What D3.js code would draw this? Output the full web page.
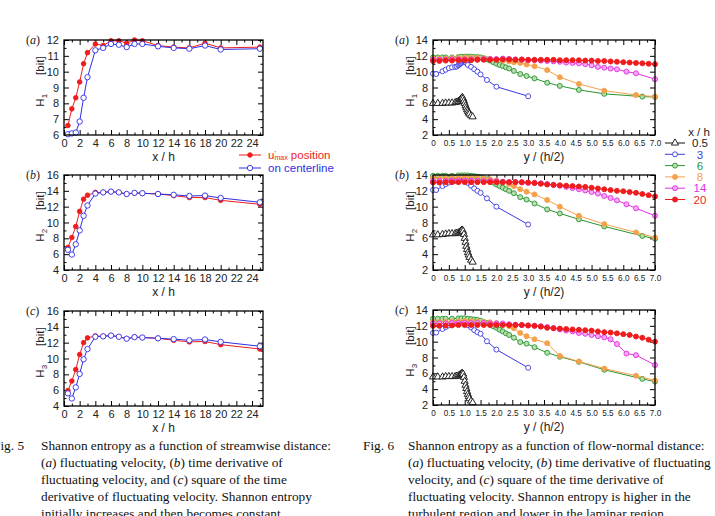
<!DOCTYPE html>
<html>
<head>
<meta charset="utf-8">
<script src="https://cdn.jsdelivr.net/npm/d3@7"></script>
<style>
  body { margin: 0; background: #fff; }
  svg { display: block; }
</style>
</head>
<body>
<div id="chart"></div>
<script>
var svgWidth = 715;
var svgHeight = 516;
var sans = "'Liberation Sans', Arial, sans-serif";
var serif = "'Liberation Serif', 'Times New Roman', serif";

// ---- Fig. 5 : entropy vs streamwise distance x/h ----
var xh = [0.5, 1, 1.5, 2, 2.5, 3, 4, 5, 6, 7, 8, 9, 10, 12, 14, 16, 18, 20, 25];
var h1Umax   = [6.6, 7.65, 8.35, 9.35, 10.5, 11.2, 11.75, 11.65, 11.95, 11.95, 11.8, 12.0, 11.95, 11.65, 11.55, 11.5, 11.8, 11.5, 11.55];
var h1Center = [6.05, 6.1, 6.15, 6.85, 8.35, 9.65, 11.35, 11.5, 11.75, 11.7, 11.55, 11.75, 11.75, 11.6, 11.5, 11.45, 11.65, 11.4, 11.45];
var h2Umax   = [6.85, 8.1, 9.5, 11.4, 12.95, 13.45, 13.8, 13.8, 13.9, 13.8, 13.6, 13.7, 13.7, 13.6, 13.4, 13.15, 13.15, 12.8, 12.3];
var h2Center = [6.55, 5.95, 7.25, 9.0, 10.85, 12.15, 13.65, 13.8, 13.9, 13.8, 13.6, 13.75, 13.7, 13.6, 13.5, 13.35, 13.4, 13.1, 12.55];
var h3Umax   = [5.95, 7.15, 8.6, 10.5, 12.0, 12.6, 12.85, 12.8, 12.9, 12.75, 12.5, 12.7, 12.65, 12.55, 12.3, 12.1, 12.15, 11.75, 11.2];
var h3Center = [5.6, 4.95, 6.35, 8.05, 9.9, 11.2, 12.75, 12.8, 12.9, 12.75, 12.5, 12.7, 12.65, 12.55, 12.45, 12.3, 12.4, 12.1, 11.55];

// ---- Fig. 6 : entropy vs flow-normal distance y/(h/2), one set per x/h ----
var pos05 = [0, 0.15, 0.3, 0.4, 0.5, 0.6, 0.7, 0.75, 0.8, 0.85, 0.875, 0.9, 0.925, 0.95, 0.975, 1.0, 1.025, 1.05, 1.075, 1.1, 1.125, 1.15, 1.2, 1.25];
var pos3  = [0, 0.1, 0.3, 0.4, 0.5, 0.6, 0.7, 0.75, 0.8, 0.825, 0.85, 0.875, 0.9, 0.925, 0.95, 0.975, 1.0, 1.025, 1.05, 1.1, 1.2, 1.3, 1.4, 1.5, 1.7, 2.0, 3.0];
var pos6  = [0, 0.15, 0.3, 0.4, 0.6, 0.8, 0.9, 1.0, 1.1, 1.2, 1.3, 1.4, 1.5, 1.6, 1.7, 1.8, 1.9, 2.0, 2.1, 2.2, 2.3, 2.4, 2.55, 2.75, 2.95, 3.2, 3.6, 4.0, 4.6, 5.4, 6.6, 7.0];
var pos8  = [0, 0.2, 0.4, 0.6, 0.8, 1.0, 1.2, 1.4, 1.6, 1.8, 2.0, 2.2, 2.4, 2.55, 2.75, 2.95, 3.2, 3.6, 4.0, 4.6, 5.4, 6.4, 7.0];
var pos14 = [0, 0.2, 0.4, 0.6, 0.8, 1.0, 1.2, 1.4, 1.6, 1.8, 2.0, 2.2, 2.4, 2.6, 2.8, 3.0, 3.2, 3.4, 3.6, 3.8, 4.0, 4.2, 4.4, 4.6, 4.8, 5.0, 5.2, 5.4, 5.6, 5.8, 6.1, 6.4, 7.0];
var pos20 = [0, 0.2, 0.4, 0.6, 0.8, 1.0, 1.2, 1.4, 1.6, 1.8, 2.0, 2.2, 2.4, 2.6, 2.8, 3.0, 3.2, 3.4, 3.6, 3.8, 4.0, 4.2, 4.4, 4.6, 4.8, 5.0, 5.2, 5.4, 5.6, 5.8, 6.0, 6.2, 6.4, 6.6, 6.8, 7.0];

var h1_05 = [6.0, 6.0, 6.0, 6.05, 6.05, 6.05, 6.1, 6.15, 6.25, 6.4, 6.5, 6.65, 6.75, 6.6, 6.3, 6.0, 5.7, 5.45, 5.2, 5.0, 4.8, 4.65, 4.45, 4.3];
var h1_3  = [9.75, 9.7, 10.05, 10.25, 10.45, 10.55, 10.6, 10.65, 10.8, 10.9, 11.0, 11.05, 11.15, 11.25, 11.3, 11.35, 11.3, 11.2, 11.1, 10.85, 10.6, 10.3, 10.0, 9.65, 8.95, 8.1, 6.9];
var h1_6  = [11.8, 11.8, 11.8, 11.8, 11.8, 11.85, 11.9, 11.9, 11.9, 11.9, 11.85, 11.85, 11.8, 11.7, 11.55, 11.4, 11.2, 11.0, 10.85, 10.7, 10.55, 10.4, 10.1, 9.7, 9.45, 9.15, 8.6, 8.2, 7.7, 7.2, 6.85, 6.8];
var h1_8  = [11.65, 11.65, 11.65, 11.7, 11.75, 11.8, 11.8, 11.75, 11.7, 11.6, 11.5, 11.4, 11.3, 11.2, 11.1, 10.9, 10.7, 10.2, 9.3, 8.45, 7.6, 7.05, 6.85];
var h1_14 = [11.5, 11.5, 11.5, 11.55, 11.55, 11.55, 11.55, 11.55, 11.6, 11.6, 11.6, 11.65, 11.6, 11.55, 11.5, 11.45, 11.45, 11.4, 11.35, 11.3, 11.25, 11.15, 11.1, 11.05, 10.95, 10.8, 10.6, 10.5, 10.4, 10.3, 10.0, 9.8, 9.05];
var h1_20 = [11.35, 11.35, 11.4, 11.4, 11.45, 11.45, 11.45, 11.5, 11.5, 11.5, 11.5, 11.55, 11.55, 11.5, 11.55, 11.5, 11.5, 11.5, 11.5, 11.5, 11.45, 11.45, 11.45, 11.45, 11.4, 11.4, 11.35, 11.35, 11.3, 11.25, 11.2, 11.15, 11.1, 11.05, 11.0, 10.95];

var h2_05 = [6.45, 6.45, 6.5, 6.55, 6.6, 6.6, 6.6, 6.65, 6.7, 6.8, 6.9, 7.0, 7.05, 6.9, 6.5, 6.0, 5.5, 5.0, 4.6, 4.2, 3.9, 3.6, 3.25, 3.0];
var h2_3  = [12.1, 12.1, 12.6, 12.85, 13.05, 13.2, 13.25, 13.3, 13.35, 13.4, 13.45, 13.5, 13.55, 13.55, 13.55, 13.5, 13.45, 13.35, 13.25, 13.0, 12.65, 12.3, 12.0, 11.75, 11.05, 10.0, 7.75];
var h2_6  = [13.9, 13.9, 13.9, 13.9, 13.9, 13.95, 13.95, 13.95, 13.95, 13.9, 13.85, 13.8, 13.7, 13.6, 13.45, 13.25, 13.05, 12.8, 12.6, 12.4, 12.2, 12.0, 11.7, 11.2, 10.9, 10.4, 9.65, 9.15, 8.4, 7.5, 6.3, 5.95];
var h2_8  = [13.6, 13.6, 13.6, 13.65, 13.65, 13.7, 13.7, 13.65, 13.55, 13.45, 13.3, 13.1, 12.85, 12.6, 12.2, 11.9, 11.55, 10.85, 10.0, 8.85, 7.8, 6.75, 6.1];
var h2_14 = [13.25, 13.25, 13.25, 13.3, 13.3, 13.3, 13.3, 13.3, 13.25, 13.25, 13.2, 13.15, 13.1, 13.1, 13.05, 13.0, 13.0, 12.95, 12.85, 12.75, 12.65, 12.5, 12.35, 12.2, 12.05, 11.85, 11.65, 11.35, 11.1, 10.8, 10.3, 9.8, 8.85];
var h2_20 = [13.05, 13.05, 13.1, 13.1, 13.1, 13.1, 13.1, 13.1, 13.1, 13.1, 13.1, 13.1, 13.1, 13.1, 13.1, 13.05, 13.0, 12.9, 12.8, 12.75, 12.7, 12.65, 12.6, 12.55, 12.5, 12.4, 12.3, 12.2, 12.1, 12.0, 11.95, 11.85, 11.75, 11.6, 11.45, 11.3];

var h3_05 = [5.55, 5.55, 5.55, 5.6, 5.6, 5.6, 5.6, 5.65, 5.7, 5.8, 5.85, 5.95, 6.0, 5.9, 5.5, 5.0, 4.5, 4.1, 3.7, 3.35, 3.05, 2.8, 2.5, 2.3];
var h3_3  = [11.1, 11.15, 11.6, 11.85, 12.05, 12.2, 12.3, 12.35, 12.4, 12.45, 12.5, 12.55, 12.6, 12.6, 12.6, 12.55, 12.5, 12.4, 12.3, 12.1, 11.8, 11.45, 11.2, 11.0, 10.05, 9.0, 6.7];
var h3_6  = [12.9, 12.9, 12.9, 12.9, 12.9, 12.95, 12.95, 12.95, 12.9, 12.85, 12.8, 12.75, 12.65, 12.5, 12.35, 12.15, 11.95, 11.75, 11.5, 11.3, 11.05, 10.85, 10.5, 9.95, 9.75, 9.3, 8.6, 8.1, 7.45, 6.45, 5.3, 4.95];
var h3_8  = [12.5, 12.5, 12.5, 12.55, 12.55, 12.6, 12.6, 12.55, 12.5, 12.45, 12.35, 12.2, 11.95, 11.7, 11.1, 10.7, 10.3, 9.8, 8.2, 7.5, 6.6, 5.7, 5.1];
var h3_14 = [12.3, 12.3, 12.3, 12.35, 12.35, 12.35, 12.35, 12.35, 12.35, 12.3, 12.3, 12.3, 12.2, 12.15, 12.1, 12.05, 12.0, 11.95, 11.85, 11.7, 11.55, 11.4, 11.3, 11.1, 11.0, 10.85, 10.7, 10.55, 10.3, 9.7, 8.5, 8.3, 7.05];
var h3_20 = [12.0, 12.0, 12.05, 12.05, 12.1, 12.1, 12.1, 12.1, 12.1, 12.1, 12.1, 12.1, 12.1, 12.1, 12.1, 12.05, 12.0, 11.9, 11.75, 11.7, 11.65, 11.6, 11.55, 11.5, 11.45, 11.4, 11.3, 11.2, 11.15, 11.05, 10.95, 10.85, 10.65, 10.5, 10.25, 10.0];

var fig6Keys = ["0.5", "3", "6", "8", "14", "20"];

var caption5 = [
    "Shannon entropy as a function of streamwise distance:",
    "(a) fluctuating velocity, (b) time derivative of",
    "fluctuating velocity, and (c) square of the time",
    "derivative of fluctuating velocity. Shannon entropy",
    "initially increases and then becomes constant."
];
var caption6 = [
    "Shannon entropy as a function of flow-normal distance:",
    "(a) fluctuating velocity, (b) time derivative of fluctuating",
    "velocity, and (c) square of the time derivative of",
    "fluctuating velocity. Shannon entropy is higher in the",
    "turbulent region and lower in the laminar region."
];

// styles of the series
var redCol = "#ee1c1c", blueCol = "#2e2ee6";
var styles6 = [
    { color: "#111111", marker: "tri",  fill: "#fff" },
    { color: "#3a3ae0", marker: "circ", fill: "#fff" },
    { color: "#2a9630", marker: "circ", fill: "#b6dcb0" },
    { color: "#f5a04a", marker: "circ", fill: "#f5a04a" },
    { color: "#e22ee2", marker: "circ", fill: "#f2a8f2" },
    { color: "#ee1c1c", marker: "circ", fill: "#ee1c1c" }
];

function zip(xs, ys) {
    return xs.map(function (x, i) { return { x: x, y: ys[i] }; });
}

var svg = d3.select("#chart")
    .append("svg")
    .attr("width", svgWidth)
    .attr("height", svgHeight);

function drawPanel(p) {
    var width = p.right - p.left;
    var height = p.bottom - p.top;
    var g = svg.append("g").attr("transform", `translate(${p.left}, ${p.top})`);

    var x = d3.scaleLinear().domain(p.xDomain).range([0, width]);
    var y = d3.scaleLinear().domain(p.yDomain).range([height, 0]);

    // inside ticks on all four sides (major + minor)
    function tickAxis(axisFn, scale, vals, size, fmt) {
        return axisFn(scale).tickValues(vals).tickSizeInner(-size).tickSizeOuter(0)
            .tickPadding(p.pad || 4).tickFormat(fmt || "");
    }
    var xb = g.append("g").attr("transform", `translate(0, ${height})`)
        .call(tickAxis(d3.axisBottom, x, p.xTicks, 5, p.xFmt));
    g.append("g").attr("transform", `translate(0, ${height})`)
        .call(tickAxis(d3.axisBottom, x, p.xMinor, 2.5));
    g.append("g").call(tickAxis(d3.axisTop, x, p.xTicks, 5));
    g.append("g").call(tickAxis(d3.axisTop, x, p.xMinor, 2.5));
    var yl = g.append("g").call(tickAxis(d3.axisLeft, y, p.yTicks, 5, d3.format("d")));
    g.append("g").call(tickAxis(d3.axisLeft, y, p.yMinor, 2.5));
    g.append("g").attr("transform", `translate(${width}, 0)`)
        .call(tickAxis(d3.axisRight, y, p.yTicks, 5));
    g.append("g").attr("transform", `translate(${width}, 0)`)
        .call(tickAxis(d3.axisRight, y, p.yMinor, 2.5));
    g.selectAll(".domain").remove();
    g.selectAll(".tick line").attr("stroke", "#000").attr("stroke-width", 1);
    xb.selectAll("text").style("font-family", sans).style("font-size", p.xFont + "px").attr("fill", "#222");
    yl.selectAll("text").style("font-family", sans).style("font-size", "11px").attr("fill", "#222")
        .attr("x", -5);

    // series
    var line = d3.line().x(d => x(d.x)).y(d => y(d.y));
    p.series.forEach(function (s) {
        var data = zip(s.xs, s.ys);
        g.append("path").datum(data)
            .attr("fill", "none")
            .attr("stroke", s.color)
            .attr("stroke-width", 1)
            .attr("d", line);
        if (s.marker === "tri") {
            g.selectAll(null).data(data).enter().append("path")
                .attr("d", d3.symbol().type(d3.symbolTriangle).size(22))
                .attr("transform", d => `translate(${x(d.x)}, ${y(d.y)})`)
                .attr("fill", s.fill).attr("stroke", s.color).attr("stroke-width", 0.9);
        } else {
            g.selectAll(null).data(data).enter().append("circle")
                .attr("cx", d => x(d.x))
                .attr("cy", d => y(d.y))
                .attr("r", s.r || 2.5)
                .attr("fill", s.fill).attr("stroke", s.color).attr("stroke-width", 0.9);
        }
    });

    // frame
    g.append("rect").attr("width", width).attr("height", height)
        .attr("fill", "none").attr("stroke", "#000").attr("stroke-width", 1.3);

    // y title  H_n [bit]
    var yt = g.append("text")
        .attr("transform", `translate(${p.ytX}, ${height / 2 - 6}) rotate(-90)`)
        .attr("text-anchor", "middle")
        .style("font-family", sans).style("font-size", "11.5px").attr("fill", "#222");
    yt.append("tspan").text("H");
    yt.append("tspan").attr("dy", 3).style("font-size", "8px").text(p.sub);
    yt.append("tspan").attr("dy", -3).attr("dx", 19).text("[bit]");

    // x title
    g.append("text")
        .attr("x", width / 2).attr("y", height + 26)
        .attr("text-anchor", "middle")
        .style("font-family", sans).style("font-size", "12px").attr("fill", "#222")
        .text(p.xTitle);

    // panel letter
    var lab = g.append("text")
        .attr("x", p.labX).attr("y", 4)
        .style("font-family", serif).style("font-size", "12px").attr("fill", "#222");
    lab.append("tspan").text("(");
    lab.append("tspan").style("font-style", "italic").text(p.letter);
    lab.append("tspan").text(")");
}

// ---- Fig. 5 panels ----
var evens = d3.range(0, 25, 2);
var ones = d3.range(1, 26, 2);
var fig5 = [
    { top: 40,  bottom: 135, yDomain: [6, 12], yTicks: [6, 7, 8, 9, 10, 11, 12], yMinor: [6.5, 7.5, 8.5, 9.5, 10.5, 11.5], ys: [h1Umax, h1Center], sub: "1", letter: "a" },
    { top: 175, bottom: 270, yDomain: [4, 16], yTicks: [4, 6, 8, 10, 12, 14, 16], yMinor: [5, 7, 9, 11, 13, 15], ys: [h2Umax, h2Center], sub: "2", letter: "b" },
    { top: 311, bottom: 406, yDomain: [4, 16], yTicks: [4, 6, 8, 10, 12, 14, 16], yMinor: [5, 7, 9, 11, 13, 15], ys: [h3Umax, h3Center], sub: "3", letter: "c" }
];
fig5.forEach(function (f) {
    drawPanel({
        left: 64, right: 263, top: f.top, bottom: f.bottom,
        xDomain: [0, 25.4], yDomain: f.yDomain,
        xTicks: evens, xMinor: ones, yTicks: f.yTicks, yMinor: f.yMinor,
        xFmt: d3.format("d"), xFont: 11, pad: 4,
        xTitle: "x / h", sub: f.sub, letter: f.letter, ytX: -20, labX: -38,
        series: [
            { xs: xh, ys: f.ys[0], color: redCol, marker: "circ", fill: redCol, r: 2.3 },
            { xs: xh, ys: f.ys[1], color: blueCol, marker: "circ", fill: "#fff", r: 2.7 }
        ]
    });
});

// ---- Fig. 6 panels ----
var halfSteps = [0, 0.5, 1, 1.5, 2, 2.5, 3, 3.5, 4, 4.5, 5, 5.5, 6, 6.5, 7];
var quarterSteps = [0.25, 0.75, 1.25, 1.75, 2.25, 2.75, 3.25, 3.75, 4.25, 4.75, 5.25, 5.75, 6.25, 6.75];
var fig6Pos = [pos05, pos3, pos6, pos8, pos14, pos20];
var fig6 = [
    { top: 40,  bottom: 135, ys: [h1_05, h1_3, h1_6, h1_8, h1_14, h1_20], sub: "1", letter: "a" },
    { top: 175, bottom: 270, ys: [h2_05, h2_3, h2_6, h2_8, h2_14, h2_20], sub: "2", letter: "b" },
    { top: 310, bottom: 405, ys: [h3_05, h3_3, h3_6, h3_8, h3_14, h3_20], sub: "3", letter: "c" }
];
fig6.forEach(function (f) {
    drawPanel({
        left: 433, right: 655, top: f.top, bottom: f.bottom,
        xDomain: [0, 7], yDomain: [2, 14],
        xTicks: halfSteps, xMinor: quarterSteps,
        yTicks: [2, 4, 6, 8, 10, 12, 14], yMinor: [3, 5, 7, 9, 11, 13],
        xFmt: d => d === 0 ? "0" : d3.format(".1f")(d), xFont: 8.2, pad: 5,
        xTitle: "y / (h/2)", sub: f.sub, letter: f.letter, ytX: -19, labX: -38,
        series: f.ys.map(function (ys, i) {
            return Object.assign({ xs: fig6Pos[i], ys: ys }, styles6[i]);
        })
    });
});

// ---- legends ----
var leg5 = svg.append("g").style("font-family", sans).style("font-size", "11.5px");
[
    { y: 155, color: redCol, fill: redCol, r: 2.3 },
    { y: 168, color: blueCol, fill: "#fff", r: 2.7 }
].forEach(function (d, i) {
    leg5.append("line").attr("x1", 239).attr("x2", 261).attr("y1", d.y).attr("y2", d.y)
        .attr("stroke", d.color).attr("stroke-width", 1);
    leg5.append("circle").attr("cx", 250).attr("cy", d.y).attr("r", d.r)
        .attr("fill", d.fill).attr("stroke", d.color).attr("stroke-width", 0.9);
    var t = leg5.append("text").attr("x", 268).attr("y", d.y + 4).attr("fill", d.color);
    if (i === 0) {
        t.append("tspan").text("u");
        t.append("tspan").attr("dy", -3).style("font-size", "8px").text("'");
        t.append("tspan").attr("dy", 4).attr("dx", -1.5).style("font-size", "7px").text("max");
        t.append("tspan").attr("dy", -1).text(" position");
    } else {
        t.text("on centerline");
    }
});

var leg6 = svg.append("g").style("font-family", sans).style("font-size", "11.5px");
leg6.append("text").attr("x", 699).attr("y", 136).attr("text-anchor", "middle")
    .attr("fill", "#222").text("x / h");
fig6Keys.forEach(function (k, i) {
    var s = styles6[i];
    var cy = 143 + i * 11.3;
    leg6.append("line").attr("x1", 665).attr("x2", 685).attr("y1", cy).attr("y2", cy)
        .attr("stroke", s.color).attr("stroke-width", 1);
    if (s.marker === "tri") {
        leg6.append("path").attr("d", d3.symbol().type(d3.symbolTriangle).size(22))
            .attr("transform", `translate(675, ${cy})`)
            .attr("fill", s.fill).attr("stroke", s.color).attr("stroke-width", 0.9);
    } else {
        leg6.append("circle").attr("cx", 675).attr("cy", cy).attr("r", 2.5)
            .attr("fill", s.fill).attr("stroke", s.color).attr("stroke-width", 0.9);
    }
    leg6.append("text").attr("x", 700).attr("y", cy + 4.2).attr("text-anchor", "middle")
        .attr("fill", s.color === "#111111" ? "#222" : s.color).text(k);
});

// ---- captions ----
function caption(lines, figLabel, xLabel, xText) {
    var g = svg.append("g").style("font-family", serif).style("font-size", "13.3px").attr("fill", "#111");
    g.append("text").attr("x", xLabel).attr("y", 450).text(figLabel);
    lines.forEach(function (ln, i) {
        var t = g.append("text").attr("x", xText).attr("y", 450 + i * 17.1);
        ln.split(/\(([abc])\)/).forEach(function (part, j) {
            if (j % 2 === 1) {
                t.append("tspan").text("(");
                t.append("tspan").style("font-style", "italic").text(part);
                t.append("tspan").text(")");
            } else {
                t.append("tspan").text(part);
            }
        });
    });
}
caption(caption5, "Fig. 5", -7, 41);
caption(caption6, "Fig. 6", 363, 408);
</script>
</body>
</html>
